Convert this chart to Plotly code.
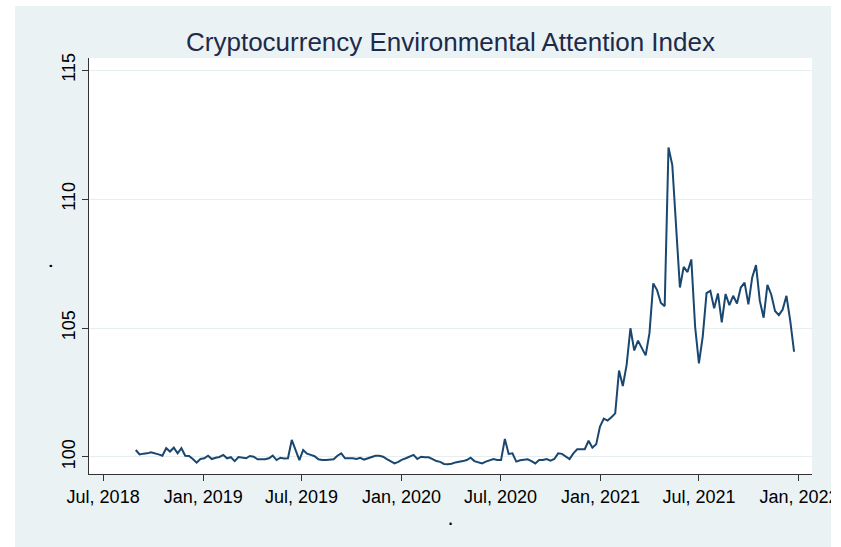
import pandas as pd
import plotly.graph_objects as go

# Weekly index observations
first_week = "2018-08-30"
index_values = [
    100.27, 100.10, 100.13, 100.14, 100.18, 100.15, 100.10, 100.05, 100.34, 100.21,
    100.36, 100.14, 100.34, 100.05, 100.04, 99.92, 99.78, 99.92, 99.95, 100.05,
    99.92, 99.97, 100.00, 100.08, 99.95, 99.99, 99.84, 100.00, 99.97, 99.95,
    100.04, 100.01, 99.91, 99.92, 99.91, 99.95, 100.05, 99.88, 99.97, 99.94,
    99.95, 100.66, 100.27, 99.88, 100.27, 100.13, 100.08, 100.03, 99.91, 99.88,
    99.88, 99.90, 99.91, 100.05, 100.14, 99.95, 99.95, 99.95, 99.92, 99.97,
    99.90, 99.95, 100.01, 100.05, 100.05, 100.01, 99.92, 99.84, 99.75, 99.81,
    99.90, 99.95, 100.00, 100.08, 99.92, 100.01, 99.99, 99.99, 99.92, 99.84,
    99.81, 99.73, 99.72, 99.74, 99.79, 99.81, 99.84, 99.88, 99.97, 99.84,
    99.78, 99.75, 99.82, 99.88, 99.92, 99.88, 99.88, 100.70, 100.12, 100.14,
    99.82, 99.87, 99.90, 99.91, 99.84, 99.75, 99.88, 99.88, 99.92, 99.86,
    99.92, 100.14, 100.12, 100.01, 99.92, 100.14, 100.30, 100.30, 100.30, 100.63,
    100.36, 100.49, 101.18, 101.49, 101.41, 101.54, 101.69, 103.35, 102.75, 103.57,
    104.99, 104.13, 104.51, 104.22, 103.94, 104.80, 106.73, 106.47, 105.97, 105.85,
    112.00, 111.32, 108.99, 106.57, 107.37, 107.17, 107.66, 105.05, 103.63, 104.67,
    106.35, 106.44, 105.77, 106.34, 105.22, 106.32, 105.89, 106.25, 105.95, 106.57,
    106.76, 105.92, 106.96, 107.44, 106.05, 105.40, 106.67, 106.30, 105.66, 105.50,
    105.72, 106.25, 105.28, 104.08,
]
weeks = pd.date_range(first_week, periods=len(index_values), freq="7D")

x_ticks = ["2018-07-01", "2019-01-01", "2019-07-01", "2020-01-01",
           "2020-07-01", "2021-01-01", "2021-07-01", "2022-01-01"]
x_tick_labels = ["Jul, 2018", "Jan, 2019", "Jul, 2019", "Jan, 2020",
                 "Jul, 2020", "Jan, 2021", "Jul, 2021", "Jan, 2022"]
y_ticks = [100, 105, 110, 115]

BG = "#eaf2f3"
LINE = "#1a476f"
FONT = "Liberation Sans, Arial, sans-serif"

W, H = 841, 547
ML, MR, MT, MB = 89, 29, 58, 73
PW, PH = W - ML - MR, H - MT - MB


def px_x(p):
    """Horizontal pixel -> paper coordinate."""
    return (p - ML) / PW


def px_y(p):
    """Vertical pixel (from top) -> paper coordinate."""
    return (H - MB - p) / PH


def white_box(x0, x1, y0, y1):
    return dict(type="rect", xref="paper", yref="paper", layer="above",
                x0=px_x(x0), x1=px_x(x1), y0=px_y(y1), y1=px_y(y0),
                fillcolor="white", line=dict(width=0))


fig = go.Figure()
fig.add_trace(go.Scatter(
    x=weeks, y=index_values, mode="lines",
    line=dict(color=LINE, width=2), showlegend=False,
))

fig.update_layout(
    width=W, height=H,
    margin=dict(l=ML, r=MR, t=MT, b=MB, autoexpand=False),
    paper_bgcolor=BG, plot_bgcolor="white",
    font=dict(family=FONT, color="black", size=18),
    title=dict(text="Cryptocurrency Environmental Attention Index",
               x=0.5, xref="paper", xanchor="center",
               y=1 - 42 / H, yanchor="middle",
               font=dict(size=26, color="#1e2a4a")),
    xaxis=dict(
        range=["2018-06-05", "2022-01-25"],
        automargin=False,
        tickmode="array", tickvals=x_ticks, ticktext=x_tick_labels,
        ticks="outside", ticklen=6, tickcolor="#333333",
        showline=True, linecolor="#333333", linewidth=1,
        showgrid=False, zeroline=False,
        title=dict(text=".", standoff=4),
    ),
    yaxis=dict(
        range=[99.34, 115.47],
        automargin=False,
        tickmode="array", tickvals=y_ticks,
        tickangle=-90,
        ticks="outside", ticklen=6, tickcolor="#333333",
        showline=True, linecolor="#333333", linewidth=1,
        showgrid=True, gridcolor="#e6eeef", gridwidth=1,
        zeroline=False,
        title=dict(text=".", standoff=0),
    ),
    shapes=[
        # white frame around the tinted graph region
        white_box(0, W, 0, 6),
        white_box(0, 15, 0, H),
        white_box(831, W, 0, H),
    ],
)

fig.write_html("out.html")
